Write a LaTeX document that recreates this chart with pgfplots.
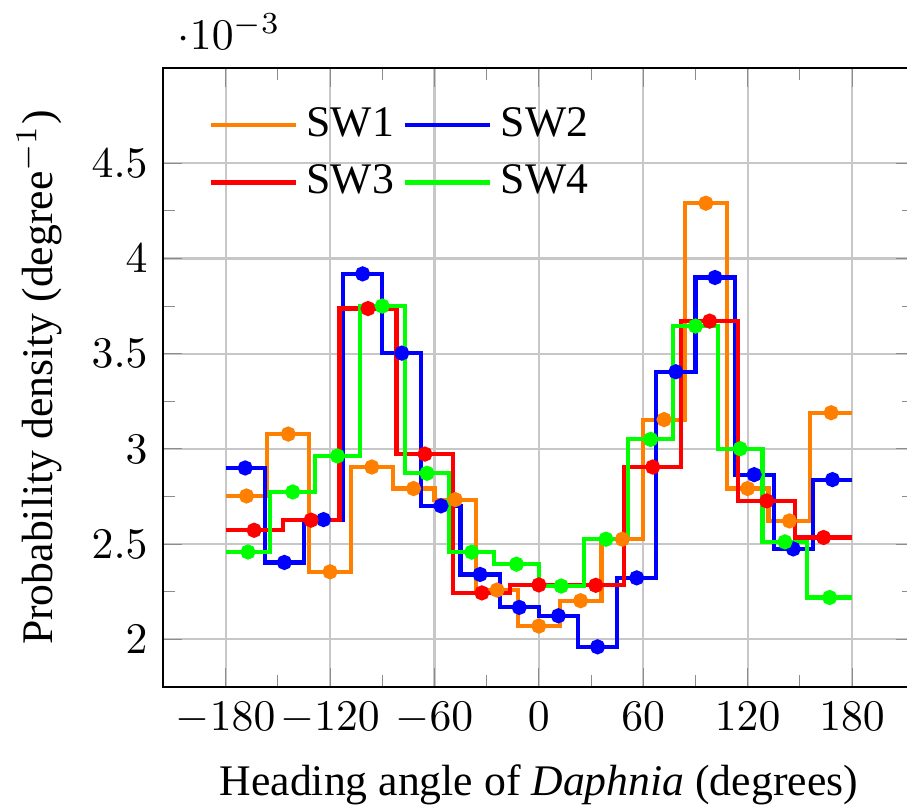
\documentclass[border=0pt]{standalone}
\usepackage{fontspec}
\setmainfont{Liberation Serif}
\usepackage{pgfplots}
\pgfplotsset{compat=1.18}
\usepackage{pgfplotstable}

\definecolor{swone}{rgb}{1,0.5,0}
\definecolor{swtwo}{rgb}{0,0,1}
\definecolor{swthree}{rgb}{1,0,0}
\definecolor{swfour}{rgb}{0,1,0}

% Histogram densities (units of 1e-3 per degree) at bin centres.
% The first and last rows repeat the outer bins at -180 and 180 so
% that the step line covers the whole circle.
% SW1: 15 bins of 24 degrees
\pgfplotstableread{
x       y
-180    2.753
-168    2.753
-144    3.078
-120    2.355
-96     2.905
-72     2.792
-48     2.734
-24     2.259
0       2.070
24      2.203
48      2.526
72      3.154
96      4.290
120     2.792
144     2.622
168     3.190
180     3.190
}\dataswone

% SW2: 16 bins of 22.5 degrees
\pgfplotstableread{
x        y
-180     2.900
-168.75  2.900
-146.25  2.404
-123.75  2.629
-101.25  3.919
-78.75   3.503
-56.25   2.701
-33.75   2.341
-11.25   2.168
11.25    2.124
33.75    1.961
56.25    2.323
78.75    3.405
101.25   3.900
123.75   2.865
146.25   2.475
168.75   2.839
180      2.839
}\dataswtwo

% SW3: 11 bins of 360/11 degrees
\pgfplotstableread{
x         y
-180      2.573
-163.636  2.573
-130.909  2.626
-98.182   3.737
-65.455   2.973
-32.727   2.244
0         2.286
32.727    2.284
65.455    2.905
98.182    3.671
130.909   2.727
163.636   2.535
180       2.535
}\dataswthree

% SW4: 14 bins of 360/14 degrees
\pgfplotstableread{
x         y
-180      2.459
-167.143  2.459
-141.429  2.774
-115.714  2.963
-90       3.750
-64.286   2.872
-38.571   2.458
-12.857   2.395
12.857    2.280
38.571    2.526
64.286    3.050
90        3.645
115.714   3.001
141.429   2.512
167.143   2.220
180       2.220
}\dataswfour

\begin{document}
\begin{tikzpicture}
\begin{axis}[
  scale only axis,
  width=172.0pt, height=141.65pt,
  xmin=-216, xmax=216,
  ymin=1.75, ymax=5.0,
  xtick={-180,-120,...,180},
  minor x tick num=1,
  ytick={2,2.5,...,4.5},
  minor y tick num=1,
  grid=major,
  major grid style={black!22, line width=0.5pt},
  tick style={black!45},
  scaled y ticks=manual:{$\cdot 10^{-3}$}{\pgfmathparse{#1}},
  every y tick scale label/.style={at={(axis description cs:0,1)}, anchor=south west, xshift=3.2pt, yshift=4pt, inner sep=0pt},
  xlabel={Heading angle of \emph{Daphnia} (degrees)},
  ylabel={Probability density (degree$^{-1}$)},
  legend columns=2,
  legend style={at={(axis description cs:0.042,0.966)}, anchor=north west, draw=none, fill=none, row sep=1pt},
  legend image code/.code={\draw[#1] (0pt,0pt) -- (19.5pt,0pt);},
  every axis plot/.append style={line width=0.95pt},
]
\addplot[swone, const plot mark mid] table[x=x, y=y] {\dataswone};
\addlegendentry{SW1}
\addplot[swone, only marks, mark=*, mark size=1.25pt, restrict x to domain=-179:179, forget plot] table[x=x, y=y] {\dataswone};

\addplot[swtwo, const plot mark mid] table[x=x, y=y] {\dataswtwo};
\addlegendentry{SW2}
\addplot[swtwo, only marks, mark=*, mark size=1.25pt, restrict x to domain=-179:179, forget plot] table[x=x, y=y] {\dataswtwo};

\addplot[swthree, const plot mark mid] table[x=x, y=y] {\dataswthree};
\addlegendentry{SW3}
\addplot[swthree, only marks, mark=*, mark size=1.25pt, restrict x to domain=-179:179, forget plot] table[x=x, y=y] {\dataswthree};

\addplot[swfour, const plot mark mid] table[x=x, y=y] {\dataswfour};
\addlegendentry{SW4}
\addplot[swfour, only marks, mark=*, mark size=1.25pt, restrict x to domain=-179:179, forget plot] table[x=x, y=y] {\dataswfour};
\end{axis}
\pgfresetboundingbox
\path[use as bounding box] ([shift={(-37.30pt,-27.00pt)}]current axis.south west) rectangle ([shift={(-1.75pt,15.56pt)}]current axis.north east);
\end{tikzpicture}
\end{document}
